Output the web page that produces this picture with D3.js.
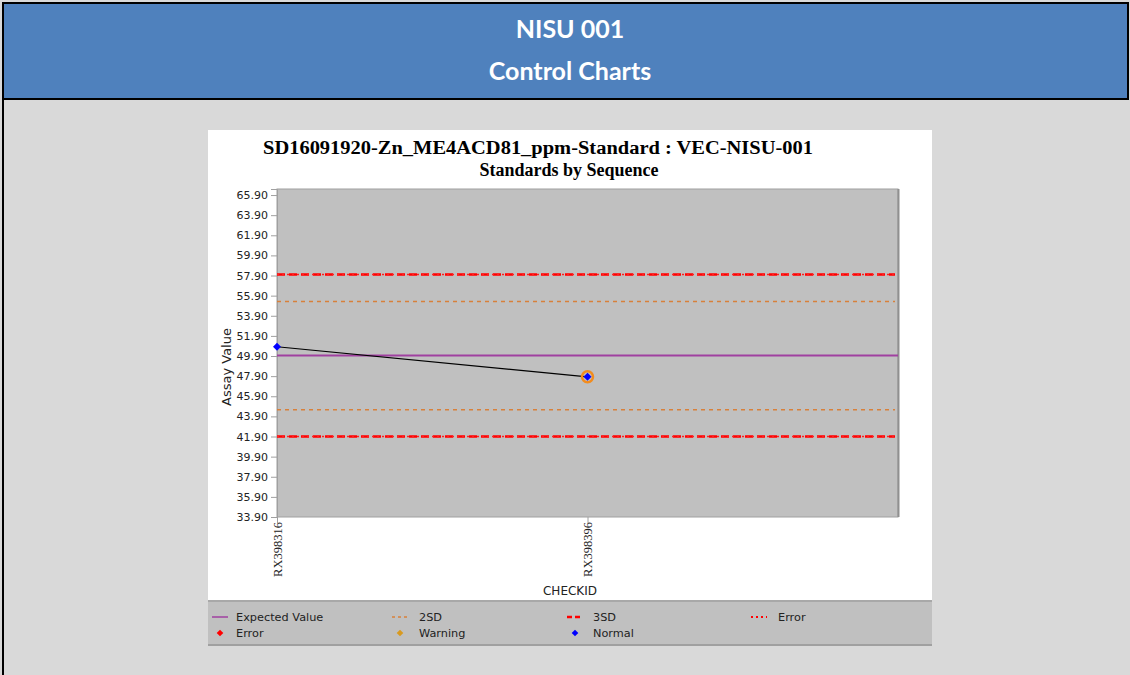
<!DOCTYPE html>
<html>
<head>
<meta charset="utf-8">
<script src="https://cdn.jsdelivr.net/npm/d3@7"></script>
<style>
  html, body { margin: 0; padding: 0; background: #d9d9d9; }
  svg { display: block; }
</style>
</head>
<body>
<svg id="page" width="1130" height="675"></svg>
<script>
// ---- data ----
const checkIds = ["RX398316", "RX398396"];
const assayValues = [50.82, 47.83];
const pointStatus = ["Normal", "Warning"];
const expectedValue = [49.95];
const sd2Limits = [55.33, 44.57];
const sd3Limits = [58.0, 41.9];
const errorLimits = [58.0, 41.9];
const yTicks = [65.9, 63.9, 61.9, 59.9, 57.9, 55.9, 53.9, 51.9, 49.9, 47.9, 45.9, 43.9, 41.9, 39.9, 37.9, 35.9, 33.9];
const yDomain = [33.9, 66.5];
const legendRow1 = ["Expected Value", "2SD", "3SD", "Error"];
const legendRow2 = ["Error", "Warning", "Normal"];

const svg = d3.select("#page");

// ---- page header ----
svg.append("rect").attr("x", 0).attr("y", 0).attr("width", 1130).attr("height", 675).attr("fill", "#d9d9d9");
svg.append("rect").attr("x", 3).attr("y", 3).attr("width", 1125).attr("height", 95).attr("fill", "#4f81bd");
svg.append("line").attr("x1", 3).attr("x2", 1128).attr("y1", 3).attr("y2", 3).attr("stroke", "#000").attr("stroke-width", 2);
svg.append("line").attr("x1", 3).attr("x2", 1128).attr("y1", 99).attr("y2", 99).attr("stroke", "#000").attr("stroke-width", 2);
svg.append("line").attr("x1", 3).attr("x2", 3).attr("y1", 2).attr("y2", 675).attr("stroke", "#000").attr("stroke-width", 2);
svg.append("line").attr("x1", 1128).attr("x2", 1128).attr("y1", 2).attr("y2", 100).attr("stroke", "#000").attr("stroke-width", 2);

const header = svg.append("g").attr("font-family", "Lato, 'Open Sans', sans-serif").attr("font-weight", "bold")
  .attr("fill", "#fff").attr("text-anchor", "middle").attr("font-size", 25);
header.append("text").attr("x", 570).attr("y", 38).text("NISU 001");
header.append("text").attr("x", 570).attr("y", 80).text("Control Charts");

// ---- chart panel ----
svg.append("rect").attr("x", 208).attr("y", 130).attr("width", 724).attr("height", 470).attr("fill", "#fff");

const titles = svg.append("g").attr("font-family", "'Liberation Serif', 'Times New Roman', serif")
  .attr("font-weight", "bold").attr("fill", "#000").attr("font-size", 18);
titles.append("text").attr("x", 263).attr("y", 154).attr("textLength", 550).attr("lengthAdjust", "spacingAndGlyphs")
  .text("SD16091920-Zn_ME4ACD81_ppm-Standard : VEC-NISU-001");
titles.append("text").attr("x", 569).attr("y", 176).attr("text-anchor", "middle").text("Standards by Sequence");

const plot = { left: 277, top: 189, right: 898, bottom: 517 };

const y = d3.scaleLinear().domain(yDomain).range([plot.bottom, plot.top]);
const x = d3.scaleLinear().domain([0, checkIds.length]).range([plot.left, plot.right]);

// plot background
svg.append("rect").attr("x", plot.left).attr("y", plot.top)
  .attr("width", plot.right - plot.left).attr("height", plot.bottom - plot.top)
  .attr("fill", "#c0c0c0").attr("stroke", "#a0a0a0").attr("stroke-width", 1);
svg.append("line").attr("x1", plot.right + 0.5).attr("x2", plot.right + 0.5)
  .attr("y1", plot.top).attr("y2", plot.bottom).attr("stroke", "#909090").attr("stroke-width", 2);

// y axis
const yAxis = d3.axisLeft(y).tickValues(yTicks).tickFormat(d3.format(".2f")).tickSize(6).tickPadding(3);
const gy = svg.append("g").attr("transform", `translate(${plot.left},0)`).call(yAxis);
gy.select(".domain").attr("stroke", "#a0a0a0");
gy.selectAll(".tick line").attr("stroke", "#a0a0a0");
gy.selectAll(".tick text").attr("font-family", "'DejaVu Sans', Verdana, sans-serif")
  .attr("font-size", 11).attr("fill", "#222");

// x axis
const xAxis = d3.axisBottom(x).tickValues(d3.range(checkIds.length))
  .tickFormat(i => checkIds[i]).tickSize(6).tickPadding(4);
const gx = svg.append("g").attr("transform", `translate(0,${plot.bottom})`).call(xAxis);
gx.select(".domain").remove();
gx.selectAll(".tick line").attr("stroke", "#a0a0a0");
gx.selectAll(".tick text")
  .attr("font-family", "'Liberation Serif', 'Times New Roman', serif").attr("font-size", 12.5).attr("fill", "#222")
  .attr("transform", "rotate(-90)").attr("text-anchor", "end")
  .attr("x", -5).attr("y", 0).attr("dy", "0.35em");

// axis titles
svg.append("text").attr("transform", `translate(231,${(plot.top + plot.bottom) / 2 + 14}) rotate(-90)`)
  .attr("text-anchor", "middle").attr("font-family", "'DejaVu Sans', Verdana, sans-serif")
  .attr("font-size", 13).attr("fill", "#222").text("Assay Value");
svg.append("text").attr("x", 570).attr("y", 595).attr("text-anchor", "middle")
  .attr("font-family", "'DejaVu Sans', Verdana, sans-serif").attr("font-size", 12).attr("fill", "#222").text("CHECKID");

// control limit lines
const limitX1 = plot.left, limitX2 = plot.right - 3;
function hline(v, color, width, dash) {
  svg.append("line").attr("x1", limitX1).attr("x2", limitX2).attr("y1", y(v)).attr("y2", y(v))
    .attr("stroke", color).attr("stroke-width", width).attr("stroke-dasharray", dash);
}
sd2Limits.forEach(v => hline(v, "#d8803a", 1.5, "4,4"));
sd3Limits.forEach(v => hline(v, "#ff0000", 2.5, "8,4"));
errorLimits.forEach(v => hline(v, "#ff2020", 1.5, "2,3"));
expectedValue.forEach(v => svg.append("line").attr("x1", limitX1).attr("x2", plot.right)
  .attr("y1", y(v)).attr("y2", y(v)).attr("stroke", "#a040a0").attr("stroke-width", 2));

// assay series
const line = d3.line().x((d, i) => x(i)).y(d => y(d));
svg.append("path").datum(assayValues).attr("d", line).attr("fill", "none")
  .attr("stroke", "#000").attr("stroke-width", 1.2);

const statusColor = { Error: "#ff0000", Warning: "#d89a20", Normal: "#0000ff" };
// square rotated 45 degrees gives the even-sided diamond marker
const marker = d3.symbol().type(d3.symbolSquare).size(32);
assayValues.forEach((v, i) => {
  if (pointStatus[i] === "Warning") {
    svg.append("circle").attr("cx", x(i)).attr("cy", y(v)).attr("r", 5.5)
      .attr("fill", "none").attr("stroke", "#f28c1e").attr("stroke-width", 2.5);
  }
  svg.append("path").attr("d", marker).attr("transform", `translate(${x(i)},${y(v)}) rotate(45)`).attr("fill", "#0000ff");
});

// ---- legend ----
svg.append("rect").attr("x", 208).attr("y", 600).attr("width", 724).attr("height", 45).attr("fill", "#c0c0c0");
svg.append("line").attr("x1", 208).attr("x2", 932).attr("y1", 601).attr("y2", 601).attr("stroke", "#a8a8a8").attr("stroke-width", 2);
svg.append("line").attr("x1", 208).attr("x2", 932).attr("y1", 645).attr("y2", 645).attr("stroke", "#a0a0a0").attr("stroke-width", 2);

const colX = [212, 392, 567, 751];
const textX = [236, 419, 593, 778];
const row1Y = 617, row2Y = 633;
const lg = svg.append("g").attr("font-family", "'DejaVu Sans', Verdana, sans-serif").attr("font-size", 11.3).attr("fill", "#222");
legendRow1.forEach((t, i) => lg.append("text").attr("x", textX[i]).attr("y", row1Y + 4).text(t));
legendRow2.forEach((t, i) => lg.append("text").attr("x", textX[i]).attr("y", row2Y + 4).text(t));

function legLine(i, color, width, dash) {
  svg.append("line").attr("x1", colX[i]).attr("x2", colX[i] + 16).attr("y1", row1Y).attr("y2", row1Y)
    .attr("stroke", color).attr("stroke-width", width).attr("stroke-dasharray", dash);
}
legLine(0, "#a040a0", 1.5, null);
legLine(1, "#d8803a", 1.5, "3,3");
legLine(2, "#ff0000", 2.5, "5,3");
legLine(3, "#ff0000", 2, "2,3");

const legMarker = d3.symbol().type(d3.symbolSquare).size(22);
legendRow2.forEach((s, i) => {
  svg.append("path").attr("d", legMarker).attr("transform", `translate(${colX[i] + 8},${row2Y}) rotate(45)`)
    .attr("fill", statusColor[s]);
});
</script>
</body>
</html>
